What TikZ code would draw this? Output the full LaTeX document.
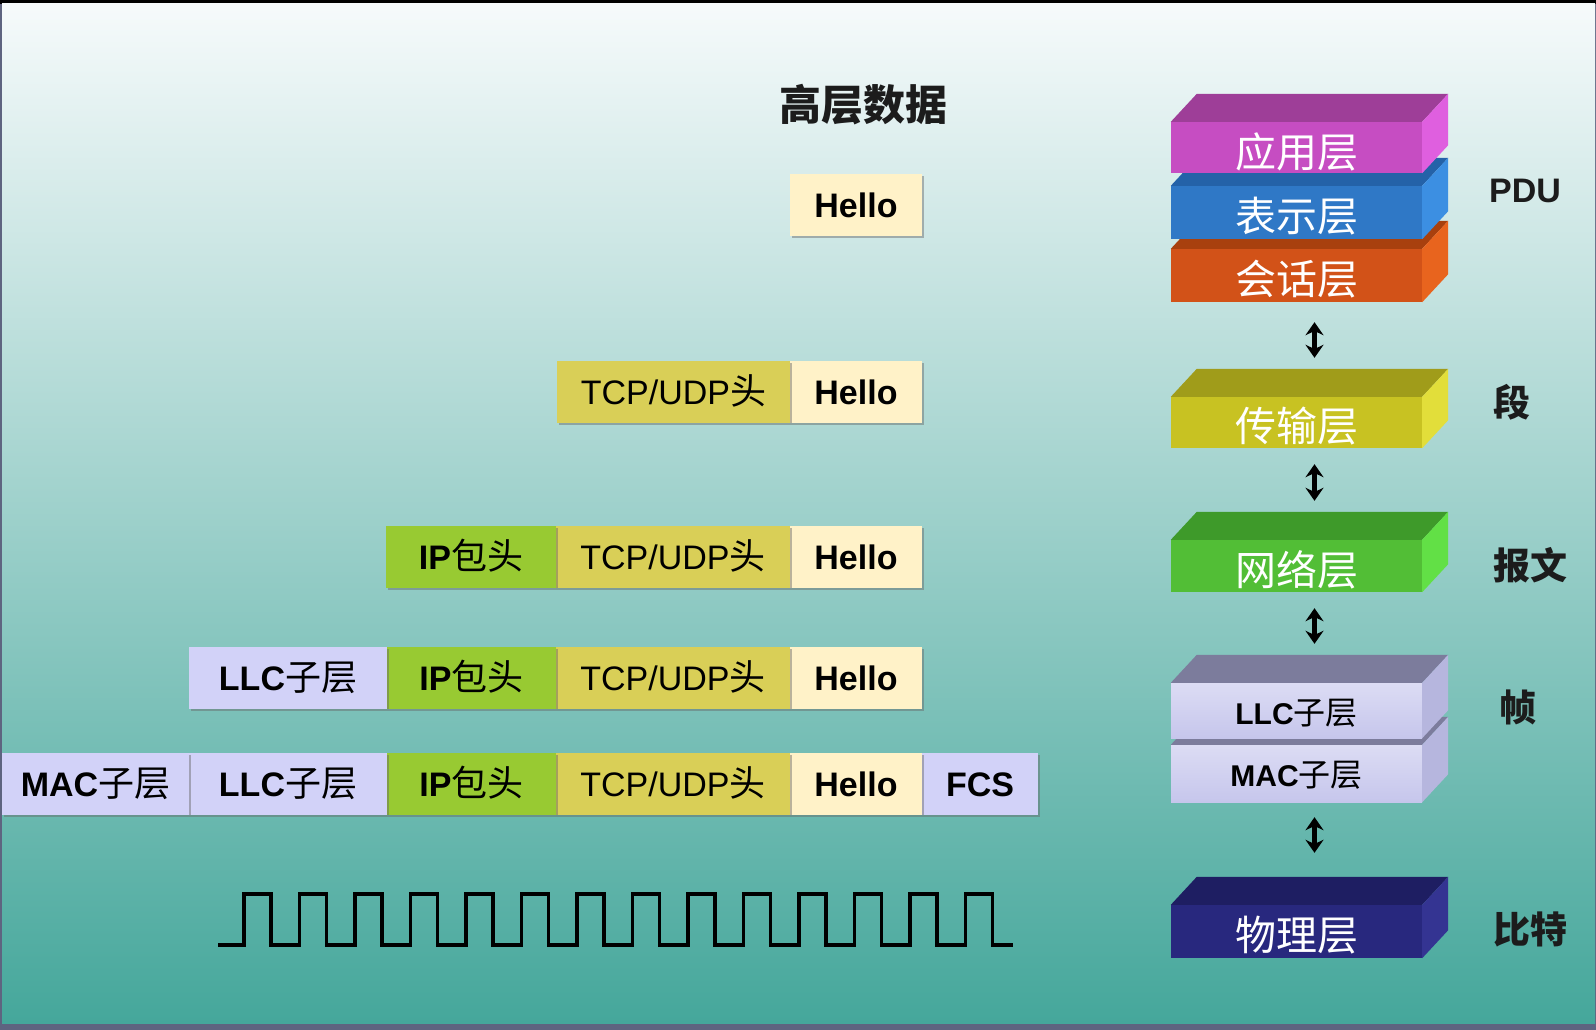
\documentclass[tikz,border=0pt]{standalone}
\usepackage{fontspec}
\setmainfont{Liberation Sans}
\newfontfamily\cjk{Noto Sans CJK SC}
\usetikzlibrary{arrows.meta,shadows}
\definecolor{frameC}{HTML}{5E6480}
\definecolor{bgTop}{HTML}{F6FAFB}
\definecolor{bgMid}{HTML}{A3CDC8}
\definecolor{bgBot}{HTML}{45A79B}
\definecolor{cHel}{HTML}{FFF2C8}
\definecolor{cTcp}{HTML}{D9CF57}
\definecolor{cIp}{HTML}{98CA32}
\definecolor{cLav}{HTML}{D2D2F8}
\definecolor{appT}{HTML}{9E3E98}\definecolor{appF}{HTML}{C64DC2}\definecolor{appS}{HTML}{DF5FDF}
\definecolor{preT}{HTML}{2462A8}\definecolor{preF}{HTML}{2F78C6}\definecolor{preS}{HTML}{3C8FE2}
\definecolor{sesT}{HTML}{A8400E}\definecolor{sesF}{HTML}{D25218}\definecolor{sesS}{HTML}{E8641E}
\definecolor{traT}{HTML}{A09C1A}\definecolor{traF}{HTML}{C8C222}\definecolor{traS}{HTML}{E2DE3A}
\definecolor{netT}{HTML}{3E9A2A}\definecolor{netF}{HTML}{52BE36}\definecolor{netS}{HTML}{62E046}
\definecolor{dlT}{HTML}{7C7C9C}\definecolor{dlA}{HTML}{DCDCF4}\definecolor{dlB}{HTML}{C6C6EC}\definecolor{dlS}{HTML}{B6B6DE}
\definecolor{phyT}{HTML}{1E1E62}\definecolor{phyF}{HTML}{28287E}\definecolor{phyS}{HTML}{343492}
\definecolor{ink}{HTML}{1C1C1C}
\newcommand{\fs}[1]{\fontsize{#1}{#1}\selectfont}
\newcommand{\zhp}[1]{{\cjk\mdseries\fontsize{36}{36}\selectfont #1}}
\newcommand{\zhs}[1]{{\cjk\mdseries\fontsize{32}{32}\selectfont #1}}
\newcommand{\blockfaces}[3]{%
  \fill[#2] (#1.north west) -- ++(26,-28) -- ([xshift=26pt,yshift=28pt]#1.north east) -- (#1.north east) -- cycle;
  \fill[#3] (#1.north east) -- ++(26,-28) -- ([xshift=26pt,yshift=28pt]#1.south east) -- (#1.south east) -- cycle;
}
\begin{document}
\begin{tikzpicture}[x=1pt,y=-1pt,
  pk/.style={minimum height=62pt, inner sep=0pt, text height=24.5pt, text depth=0pt,
    font=\fs{34}, text=black,
    drop shadow={shadow xshift=2pt,shadow yshift=-2pt,opacity=.45,fill=black!60}},
  blk/.style={minimum width=251pt, inner sep=0pt},
  lbl/.style={font=\cjk\fs{41}, text=white, inner sep=0pt},
  dlbl/.style={font=\fs{30}\bfseries, text=black, inner sep=0pt},
  rlbl/.style={font=\cjk\bfseries\fs{37}, text=ink, inner sep=0pt},
  dbl/.style={line width=4.5pt, {Stealth[length=13pt,width=18pt]}-{Stealth[length=13pt,width=18pt]}}
]
\useasboundingbox (0,0) rectangle (1596,1030);
\fill[frameC] (0,0) rectangle (1596,1030);
\fill[black] (0,0) rectangle (1596,4);
\shade[top color=bgTop, middle color=bgMid, bottom color=bgBot] (2,4) rectangle (1595,1023);

% title
\node[font=\cjk\bfseries\fs{42}, text=ink, inner sep=0pt] (title) at (863,105) {高层数据};

% row 1
\node[pk,fill=cHel,minimum width=132pt] (r1hel) at (856,205) {\bfseries Hello};
% row 2
\node[pk,fill=cHel,minimum width=132pt] (r2hel) at (856,392) {\bfseries Hello};
\node[pk,fill=cTcp,minimum width=233pt] (r2tcp) at (673.5,392) {TCP/UDP\zhp{头}};
% row 3
\node[pk,fill=cHel,minimum width=132pt] (r3hel) at (856,557) {\bfseries Hello};
\node[pk,fill=cTcp,minimum width=234pt] (r3tcp) at (673,557) {TCP/UDP\zhp{头}};
\node[pk,fill=cIp,minimum width=170pt] (r3ip) at (471,557) {\bfseries IP\zhp{包头}};
% row 4
\node[pk,fill=cHel,minimum width=132pt] (r4hel) at (856,678) {\bfseries Hello};
\node[pk,fill=cTcp,minimum width=234pt] (r4tcp) at (673,678) {TCP/UDP\zhp{头}};
\node[pk,fill=cIp,minimum width=169pt] (r4ip) at (471.5,678) {\bfseries IP\zhp{包头}};
\node[pk,fill=cLav,minimum width=198pt] (r4llc) at (288,678) {\bfseries LLC\zhp{子层}};
% row 5
\node[pk,fill=cLav,minimum width=116pt] (r5fcs) at (980,784) {\bfseries FCS};
\node[pk,fill=cHel,minimum width=132pt] (r5hel) at (856,784) {\bfseries Hello};
\node[pk,fill=cTcp,minimum width=234pt] (r5tcp) at (673,784) {TCP/UDP\zhp{头}};
\node[pk,fill=cIp,minimum width=169pt] (r5ip) at (471.5,784) {\bfseries IP\zhp{包头}};
\node[pk,fill=cLav,minimum width=198pt] (r5llc) at (288,784) {\bfseries LLC\zhp{子层}};
\node[pk,fill=cLav,minimum width=187pt] (r5mac) at (95.5,784) {\bfseries MAC\zhp{子层}};

% square wave
\draw[line width=3.2pt, line join=miter] (218,945)
  foreach \k in {0,...,13} { -- ({244+55.5*\k},945) -- ({244+55.5*\k},894) -- ({271+55.5*\k},894) -- ({271+55.5*\k},945) }
  -- (1013,945);

% layer blocks
\node[blk,minimum height=53pt,fill=sesF] (ses) at (1296.5,275.5) {};
\blockfaces{ses}{sesT}{sesS}
\node[blk,minimum height=53pt,fill=preF] (pre) at (1296.5,212.5) {};
\blockfaces{pre}{preT}{preS}
\node[blk,minimum height=51pt,fill=appF] (app) at (1296.5,147.5) {};
\blockfaces{app}{appT}{appS}
\node[lbl] at ([yshift=-4pt]app.center) {应用层};
\node[lbl] at ([yshift=-4pt]pre.center) {表示层};
\node[lbl] at ([yshift=-4pt]ses.center) {会话层};

\node[blk,minimum height=51pt,fill=traF] (tra) at (1296.5,422.5) {};
\blockfaces{tra}{traT}{traS}
\node[lbl] at ([yshift=-4pt]tra.center) {传输层};

\node[blk,minimum height=52pt,fill=netF] (net) at (1296.5,566) {};
\blockfaces{net}{netT}{netS}
\node[lbl] at ([yshift=-4pt]net.center) {网络层};

\node[blk,minimum height=57pt,top color=dlA,middle color=white,bottom color=dlB] (mac) at (1296.5,773.5) {};
\blockfaces{mac}{dlT}{dlS}
\node[blk,minimum height=55pt,top color=dlA,middle color=white,bottom color=dlB] (llc) at (1296.5,710.5) {};
\blockfaces{llc}{dlT}{dlS}
\node[dlbl] at ([yshift=-3pt]llc.center) {LLC\zhs{子层}};
\node[dlbl] at ([yshift=-2pt]mac.center) {MAC\zhs{子层}};

\node[blk,minimum height=53pt,fill=phyF] (phy) at (1296.5,931.5) {};
\blockfaces{phy}{phyT}{phyS}
\node[lbl] at ([yshift=-4pt]phy.center) {物理层};

% arrows
\draw[dbl] ([xshift=18pt,yshift=-20pt]ses.south) -- ([xshift=18pt,yshift=39pt]tra.north);
\draw[dbl] ([xshift=18pt,yshift=-16pt]tra.south) -- ([xshift=18pt,yshift=39pt]net.north);
\draw[dbl] ([xshift=18pt,yshift=-16pt]net.south) -- ([xshift=18pt,yshift=39pt]llc.north);
\draw[dbl] ([xshift=18pt,yshift=-15pt]mac.south) -- ([xshift=18pt,yshift=52pt]phy.north);

% right labels
\node[font=\fs{34}\bfseries, text=ink, inner sep=0pt] (pdu) at (1525,191) {PDU};
\node[rlbl] (seg) at (1512,402) {段};
\node[rlbl] (pkt) at (1530,565) {报文};
\node[rlbl] (frm) at (1518,707) {帧};
\node[rlbl] (bit) at (1530,929) {比特};
\end{tikzpicture}
\end{document}
